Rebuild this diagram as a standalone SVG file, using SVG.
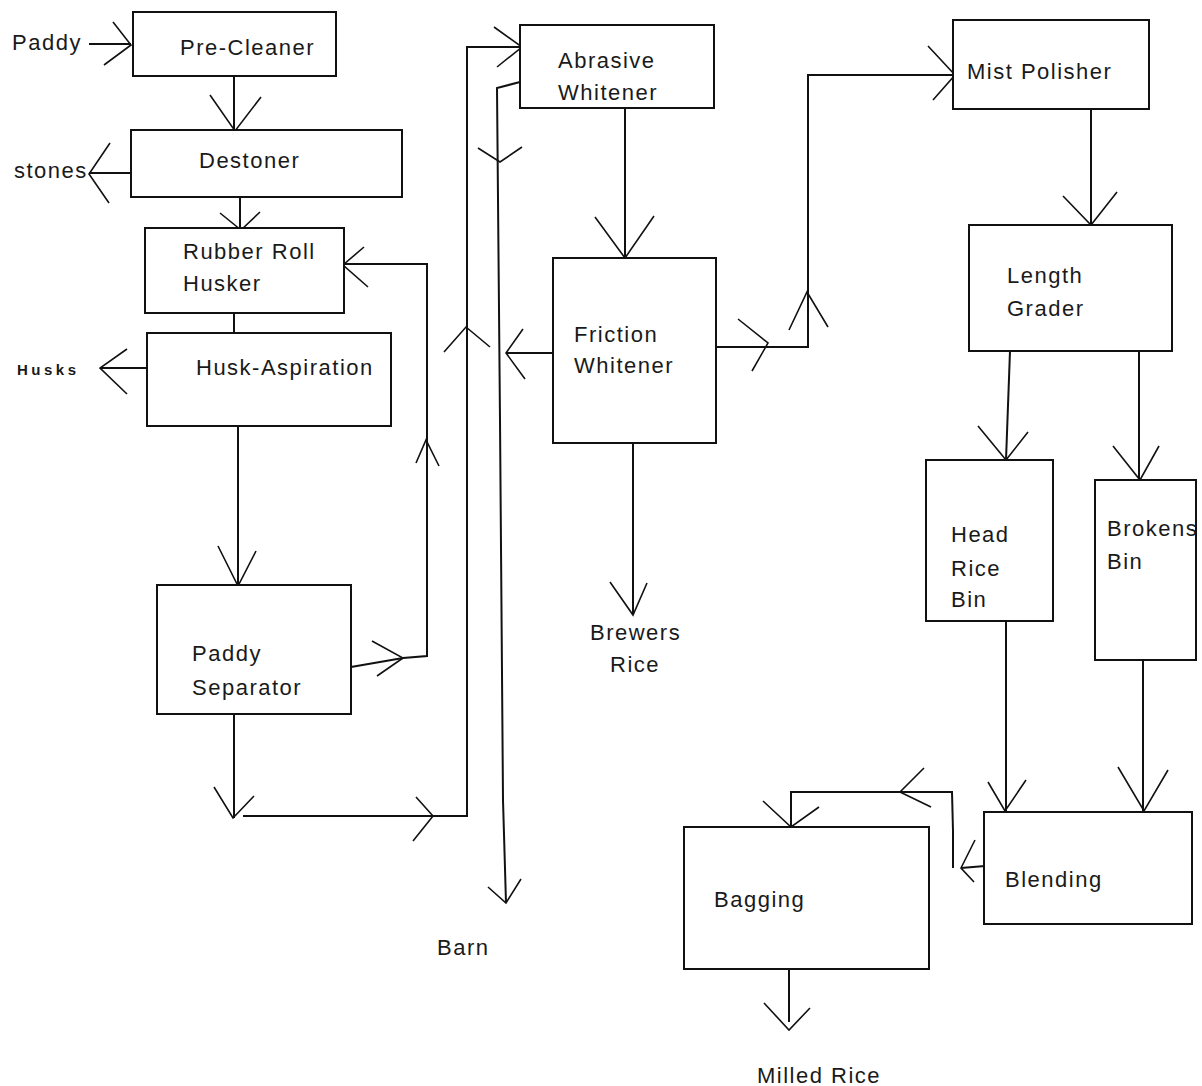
<svg xmlns="http://www.w3.org/2000/svg" width="1202" height="1086" viewBox="0 0 1202 1086">
<style>
.box{fill:#fff;stroke:#111;stroke-width:2}
.t{font-family:"Liberation Sans",Arial,sans-serif;font-size:22px;letter-spacing:1.5px;fill:#1a1a1a}
.small{font-size:15px;font-weight:bold;letter-spacing:3.5px}
.ln{fill:none;stroke:#111;stroke-width:2}
.ah{fill:none;stroke:#111;stroke-width:1.6}
</style>
<rect width="1202" height="1086" fill="#fff"/>
<g id="connectors">
<path class="ln" d="M89,44 H131"/><path class="ah" d="M113,22 L131,45 L104,65"/>
<path class="ln" d="M234,77 V130"/><path class="ah" d="M210,95 L235,131 L261,97"/>
<path class="ln" d="M131,173 H89"/><path class="ah" d="M110,143 L89,174 L109,203"/>
<path class="ln" d="M240,197 V229"/><path class="ah" d="M220,213 L241,230 L260,212"/>
<path class="ln" d="M234,313 V333"/>
<path class="ln" d="M152,368 H100"/><path class="ah" d="M127,349 L100,368 L127,394"/>
<path class="ln" d="M238,426 V585"/><path class="ah" d="M218,546 L238,586 L256,551"/>
<path class="ln" d="M351,667 L403,658 L427,656 V264 H344"/>
<path class="ah" d="M372,641 L403,658 L377,676"/>
<path class="ah" d="M416,463 L426,440 L439,466"/>
<path class="ah" d="M364,247 L343,265 L368,287"/>
<path class="ln" d="M234,714 V818"/><path class="ah" d="M214,787 L233,818 L254,796"/>
<path class="ln" d="M243,816 H467 V47 H522"/>
<path class="ah" d="M416,797 L433,816 L413,841"/>
<path class="ah" d="M444,352 L466,327 L490,347"/>
<path class="ah" d="M494,27 L522,47 L497,67"/>
<path class="ln" d="M520,82 L497,88 L500,420 L503,800 L506,903"/>
<path class="ah" d="M478,148 L500,162 L522,147"/>
<path class="ah" d="M488,887 L506,903 L521,879"/>
<path class="ln" d="M553,353 H506"/><path class="ah" d="M523,329 L506,353 L525,379"/>
<path class="ln" d="M625,108 V258"/><path class="ah" d="M595,217 L625,258 L654,216"/>
<path class="ln" d="M633,443 V615"/><path class="ah" d="M610,582 L633,615 L647,583"/>
<path class="ln" d="M716,347 H808 V75 H955"/>
<path class="ah" d="M738,319 L768,343 L752,371"/>
<path class="ah" d="M789,330 L807,292 L828,327"/>
<path class="ah" d="M928,46 L955,75 L933,100"/>
<path class="ln" d="M1091,109 V225"/><path class="ah" d="M1063,196 L1091,225 L1117,192"/>
<path class="ln" d="M1010,351 L1006,460"/><path class="ah" d="M978,426 L1006,460 L1028,432"/>
<path class="ln" d="M1139,351 V480"/><path class="ah" d="M1113,446 L1140,480 L1159,446"/>
<path class="ln" d="M1006,621 V811"/><path class="ah" d="M988,782 L1005,811 L1026,780"/>
<path class="ln" d="M1143,660 V811"/><path class="ah" d="M1118,767 L1144,811 L1168,770"/>
<path class="ln" d="M985,866 L961,868"/><path class="ah" d="M975,840 L961,868 L974,882"/>
<path class="ln" d="M953,868 V831 L952,792 H791 V826"/>
<path class="ah" d="M924,768 L900,792 L931,807"/>
<path class="ah" d="M763,801 L791,827 L819,807"/>
<path class="ln" d="M789,969 V1022"/><path class="ah" d="M764,1003 L789,1030 L810,1008"/>
</g>
<g id="pre-cleaner"><rect class="box" x="133" y="12" width="203" height="64"/><text class="t" x="180" y="55">Pre-Cleaner</text></g>
<g id="destoner"><rect class="box" x="131" y="130" width="271" height="67"/><text class="t" x="199" y="168">Destoner</text></g>
<g id="rubber-roll-husker"><rect class="box" x="145" y="228" width="199" height="85"/><text class="t" x="183" y="259">Rubber Roll</text><text class="t" x="183" y="291">Husker</text></g>
<g id="husk-aspiration"><rect class="box" x="147" y="333" width="244" height="93"/><text class="t" x="196" y="375">Husk-Aspiration</text></g>
<g id="paddy-separator"><rect class="box" x="157" y="585" width="194" height="129"/><text class="t" x="192" y="661">Paddy</text><text class="t" x="192" y="695">Separator</text></g>
<g id="abrasive-whitener"><rect class="box" x="520" y="25" width="194" height="83"/><text class="t" x="558" y="68">Abrasive</text><text class="t" x="558" y="100">Whitener</text></g>
<g id="friction-whitener"><rect class="box" x="553" y="258" width="163" height="185"/><text class="t" x="574" y="342">Friction</text><text class="t" x="574" y="373">Whitener</text></g>
<g id="mist-polisher"><rect class="box" x="953" y="20" width="196" height="89"/><text class="t" x="967" y="79">Mist Polisher</text></g>
<g id="length-grader"><rect class="box" x="969" y="225" width="203" height="126"/><text class="t" x="1007" y="283">Length</text><text class="t" x="1007" y="316">Grader</text></g>
<g id="head-rice-bin"><rect class="box" x="926" y="460" width="127" height="161"/><text class="t" x="951" y="542">Head</text><text class="t" x="951" y="576">Rice</text><text class="t" x="951" y="607">Bin</text></g>
<g id="brokens-bin"><rect class="box" x="1095" y="480" width="101" height="180"/><text class="t" x="1107" y="536">Brokens</text><text class="t" x="1107" y="569">Bin</text></g>
<g id="blending"><rect class="box" x="984" y="812" width="208" height="112"/><text class="t" x="1005" y="887">Blending</text></g>
<g id="bagging"><rect class="box" x="684" y="827" width="245" height="142"/><text class="t" x="714" y="907">Bagging</text></g>
<g id="label-paddy"><text class="t" x="12" y="50">Paddy</text></g>
<g id="label-stones"><text class="t" x="14" y="178">stones</text></g>
<g id="label-husks"><text class="t small" x="17" y="375">Husks</text></g>
<g id="label-brewers-rice"><text class="t" x="590" y="640">Brewers</text><text class="t" x="610" y="672">Rice</text></g>
<g id="label-barn"><text class="t" x="437" y="955">Barn</text></g>
<g id="label-milled-rice"><text class="t" x="757" y="1083">Milled Rice</text></g>
</svg>
